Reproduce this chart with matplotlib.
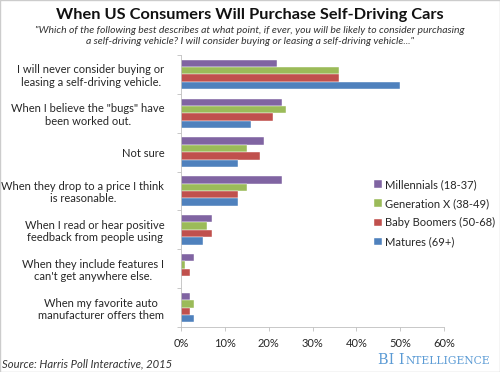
import numpy as np
import matplotlib
matplotlib.use("Agg")
from matplotlib import pyplot as plt
from matplotlib.patches import Rectangle

plt.rcParams['font.family'] = ['Lato', 'DejaVu Sans']

categories = [
    "I will never consider buying or\nleasing a self-driving vehicle.",
    "When I believe the \"bugs\" have\nbeen worked out.",
    "Not sure",
    "When they drop to a price I think\nis reasonable.",
    "When I read or hear positive\nfeedback from people using",
    "When they include features I\ncan't get anywhere else.",
    "When my favorite auto\nmanufacturer offers them",
]
series_names = ["Millennials (18-37)", "Generation X (38-49)",
                "Baby Boomers (50-68)", "Matures (69+)"]
millennials = [0.22, 0.23, 0.19, 0.23, 0.07, 0.03, 0.02]
gen_x = [0.36, 0.24, 0.15, 0.15, 0.06, 0.01, 0.03]
boomers = [0.36, 0.21, 0.18, 0.13, 0.07, 0.02, 0.02]
matures = [0.50, 0.16, 0.13, 0.13, 0.05, 0.00, 0.03]
x_ticks = [0, 0.1, 0.2, 0.3, 0.4, 0.5, 0.6]

colors = ["#8064A2", "#9BBB59", "#C0504D", "#4F81BD"]
text_col = "#262626"

fig = plt.figure(figsize=(5.0, 3.72), dpi=100)
ax = fig.add_axes([0.362, 0.121, 0.526, 0.731])

n = len(categories)
pos = np.arange(n)
bh = 0.19
for i, (vals, c, name) in enumerate(zip([millennials, gen_x, boomers, matures],
                                         colors, series_names)):
    ax.barh(pos + (i - 1.5) * bh, vals, height=bh, color=c,
            edgecolor="white", linewidth=0.3, label=name)

ax.set_ylim(n - 0.5, -0.5)
ax.set_xlim(0, 0.6)
ax.set_yticks(pos)
ax.set_yticklabels(categories, fontsize=8, color=text_col, linespacing=1.15)
for lab in ax.get_yticklabels():
    lab.set_multialignment("center")
ax.tick_params(axis="y", which="major", length=0, pad=12)
ax.set_yticks(np.arange(-0.5, n, 1.0), minor=True)
ax.tick_params(axis="y", which="minor", length=3, color="#BFBFBF", width=0.6)

ax.set_xticks(x_ticks)
ax.set_xticklabels(["%d%%" % round(t * 100) for t in x_ticks],
                   fontsize=8, color=text_col)
ax.tick_params(axis="x", length=3, color="#BFBFBF", width=0.6, pad=5)

for s in ["top", "right"]:
    ax.spines[s].set_visible(False)
for s in ["left", "bottom"]:
    ax.spines[s].set_color("#BFBFBF")
    ax.spines[s].set_linewidth(0.6)

handles, labels = ax.get_legend_handles_labels()
fig.legend(handles, labels, loc="upper left",
           bbox_to_anchor=(0.728, 0.545), frameon=False, fontsize=8,
           handlelength=0.7, handleheight=0.7, handletextpad=0.25,
           labelspacing=0.72, labelcolor=text_col)

fig.text(0.5, 0.960, "When US Consumers Will Purchase Self-Driving Cars",
         ha="center", va="center", fontsize=11.8, fontweight="bold", color="#111111")
fig.text(0.5, 0.903,
         "\"Which of the following best describes at what point, if ever, you will be likely to consider purchasing\n"
         "a self-driving vehicle? I will consider buying or leasing a self-driving vehicle...\"",
         ha="center", va="center", fontsize=7.5, style="italic", color="#333333",
         linespacing=1.3)
fig.text(0.004, 0.022, "Source: Harris Poll Interactive, 2015", ha="left",
         va="center", fontsize=8.1, style="italic", color="#333333")

# BI Intelligence logo in small caps
r = fig.canvas.get_renderer()
big = fig.text(0.756, 0.021, "BI I", ha="left", va="baseline", fontsize=10.4,
               family="DejaVu Serif", color="#5B9BD5")
bb = big.get_window_extent(renderer=r)
x1 = fig.transFigure.inverted().transform((bb.x1, bb.y0))[0]
fig.text(x1 + 0.002, 0.021, "NTELLIGENCE", ha="left", va="baseline", fontsize=7.7,
         family="DejaVu Serif", color="#5B9BD5")

fig.patches.append(Rectangle((0, 0), 1, 1, transform=fig.transFigure,
                             fill=False, edgecolor="#CCCCCC", linewidth=1))

fig.savefig("out.png", dpi=100, facecolor="white")
